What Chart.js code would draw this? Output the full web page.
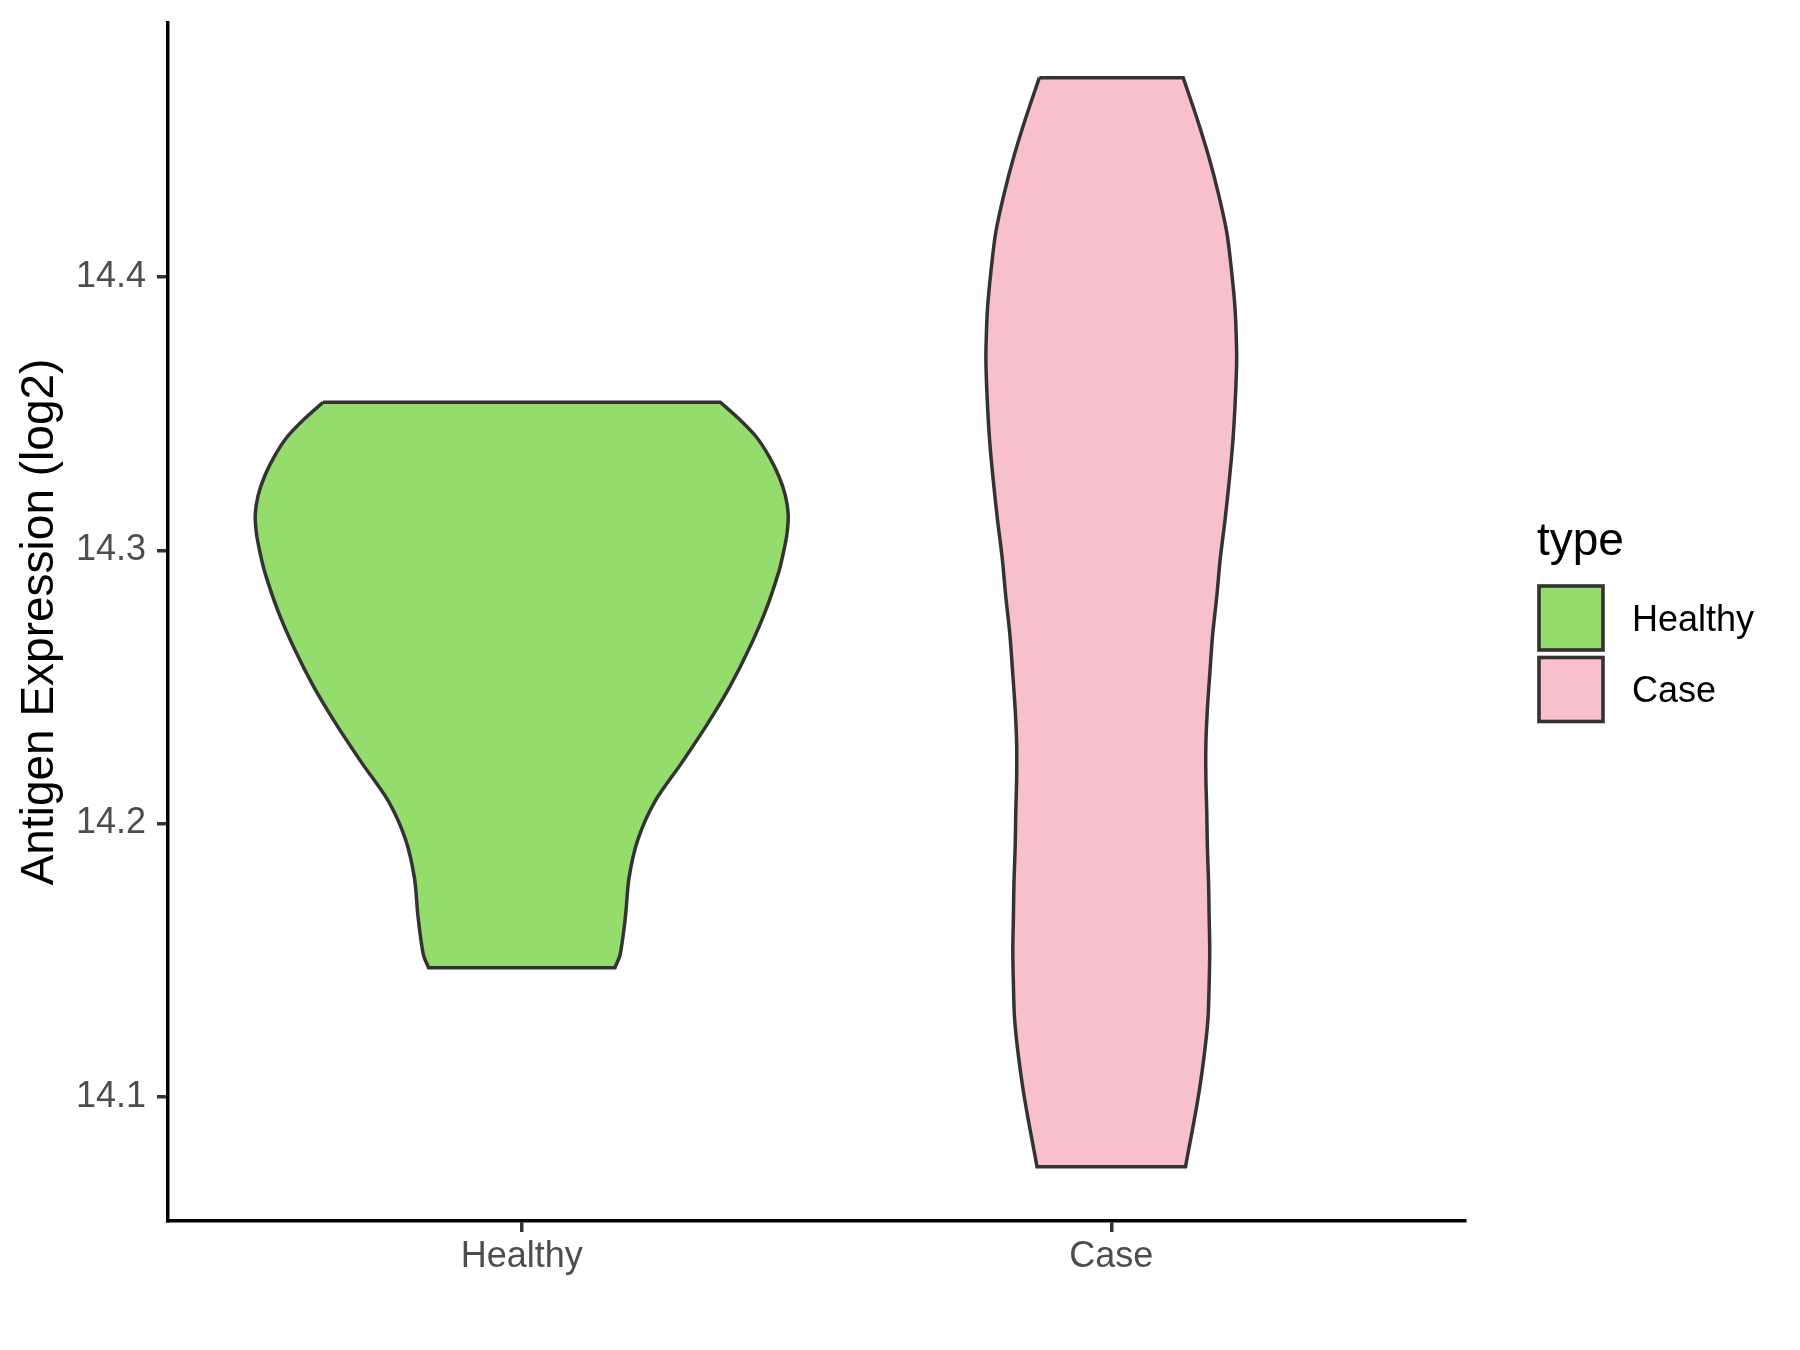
<!DOCTYPE html>
<html>
<head>
<meta charset="utf-8">
<script src="https://cdn.jsdelivr.net/npm/chart.js@4.4.1/dist/chart.umd.min.js"></script>
<style>
  html, body { margin: 0; padding: 0; background: #fff; }
  #wrap { width: 1800px; height: 1350px; }
</style>
</head>
<body>
<div id="wrap"><canvas id="violin" width="1800" height="1350"></canvas></div>
<script>
// categories and colours
const groups = ["Healthy", "Case"];
const fillColors = ["#94DC6B", "#F7C0CB"];
const yTicks = [14.1, 14.2, 14.3, 14.4];

// violin outlines: value (log2) and half width (x units)
const healthyY = [14.3542, 14.3482, 14.3412, 14.3342, 14.3272, 14.3202, 14.3132, 14.3062, 14.2992, 14.2921,
  14.2781, 14.2641, 14.2501, 14.2361, 14.2221, 14.2081, 14.1941, 14.1801, 14.1661, 14.1521, 14.1472];
const healthyHalf = [0.337, 0.368, 0.399, 0.420, 0.436, 0.447, 0.452, 0.450, 0.444, 0.436,
  0.414, 0.386, 0.353, 0.314, 0.271, 0.226, 0.197, 0.182, 0.176, 0.167, 0.158];

const caseY = [14.4730, 14.4583, 14.4443, 14.4303, 14.4163, 14.4023, 14.3883, 14.3743, 14.3672, 14.3533,
  14.3392, 14.3252, 14.3112, 14.2972, 14.2832, 14.2692, 14.2544, 14.2418, 14.2292, 14.2166,
  14.2040, 14.1914, 14.1788, 14.1662, 14.1536, 14.1410, 14.1284, 14.1158, 14.1032, 14.0906,
  14.0780, 14.0744];
const caseHalf = [0.122, 0.145, 0.165, 0.182, 0.196, 0.204, 0.210, 0.2125, 0.2125, 0.210,
  0.206, 0.200, 0.193, 0.185, 0.179, 0.172, 0.167, 0.163, 0.1605, 0.1605,
  0.162, 0.163, 0.165, 0.166, 0.167, 0.166, 0.164, 0.158, 0.150, 0.140,
  0.129, 0.126];

const FONT = "'Liberation Sans', Arial, sans-serif";

// closed outline: left side top->bottom, right side bottom->top
// the four corners are doubled so the flat ends stay straight
function outline(center, ys, half) {
  const left = ys.map((y, i) => ({ x: center - half[i], y: y }));
  const right = ys.map((y, i) => ({ x: center + half[i], y: y })).reverse();
  const lb = left[left.length - 1];
  const rb = right[0];
  const rt = right[right.length - 1];
  return left.concat([lb, rb], right, [rt, left[0]]);
}

const outlines = [
  outline(1, healthyY, healthyHalf),
  outline(2, caseY, caseHalf),
];

const legendPlugin = {
  id: "typeLegend",
  afterDraw(chart) {
    const ctx = chart.ctx;
    ctx.save();
    ctx.fillStyle = "#000";
    ctx.textAlign = "left";
    ctx.textBaseline = "alphabetic";
    ctx.font = "46px " + FONT;
    ctx.fillText("type", 1537, 555);
    const boxY = [586, 657.5];
    const textY = [631, 702];
    groups.forEach((g, i) => {
      ctx.fillStyle = fillColors[i];
      ctx.fillRect(1539, boxY[i], 64, 64);
      ctx.strokeStyle = "#333333";
      ctx.lineWidth = 3.6;
      ctx.strokeRect(1539, boxY[i], 64, 64);
      ctx.fillStyle = "#000";
      ctx.font = "36px " + FONT;
      ctx.fillText(g, 1632, textY[i]);
    });
    ctx.restore();
  },
};

new Chart(document.getElementById("violin"), {
  type: "scatter",
  data: {
    datasets: groups.map((g, i) => ({
      label: g,
      data: outlines[i],
      showLine: true,
      fill: "shape",
      tension: 0.3,
      backgroundColor: fillColors[i],
      borderColor: "#333333",
      borderWidth: 3.5,
      pointRadius: 0,
      borderJoinStyle: "miter",
    })),
  },
  options: {
    responsive: false,
    animation: false,
    devicePixelRatio: 1,
    events: [],
    layout: { padding: { top: 23, right: 335, bottom: 0, left: 0 } },
    plugins: { legend: { display: false }, tooltip: { enabled: false } },
    scales: {
      x: {
        type: "linear",
        min: 0.4,
        max: 2.6,
        afterBuildTicks: (s) => { s.ticks = groups.map((g, i) => ({ value: i + 1 })); },
        afterFit: (s) => { s.height = 129; s.paddingLeft = 0; s.paddingRight = 0; },
        ticks: {
          callback: (v) => groups[v - 1],
          color: "#4D4D4D",
          font: { family: FONT, size: 36 },
          padding: 3,
          maxRotation: 0,
        },
        grid: { drawOnChartArea: false, drawTicks: true, tickLength: 11, color: "#333333", lineWidth: 3.5 },
        border: { display: true, color: "#000", width: 3.5 },
      },
      y: {
        type: "linear",
        min: 14.0545,
        max: 14.4930,
        afterBuildTicks: (s) => { s.ticks = yTicks.map((v) => ({ value: v })); },
        afterFit: (s) => { s.width = 168; s.paddingTop = 0; s.paddingBottom = 0; },
        ticks: {
          callback: (v) => v.toFixed(1),
          color: "#4D4D4D",
          font: { family: FONT, size: 36 },
          padding: 11,
        },
        grid: { drawOnChartArea: false, drawTicks: true, tickLength: 11, color: "#333333", lineWidth: 3.5 },
        border: { display: true, color: "#000", width: 3.5 },
        title: {
          display: true,
          text: "Antigen Expression (log2)",
          color: "#000",
          font: { family: FONT, size: 46 },
          padding: { top: 13, bottom: 0 },
        },
      },
    },
  },
  plugins: [legendPlugin],
});
</script>
</body>
</html>
